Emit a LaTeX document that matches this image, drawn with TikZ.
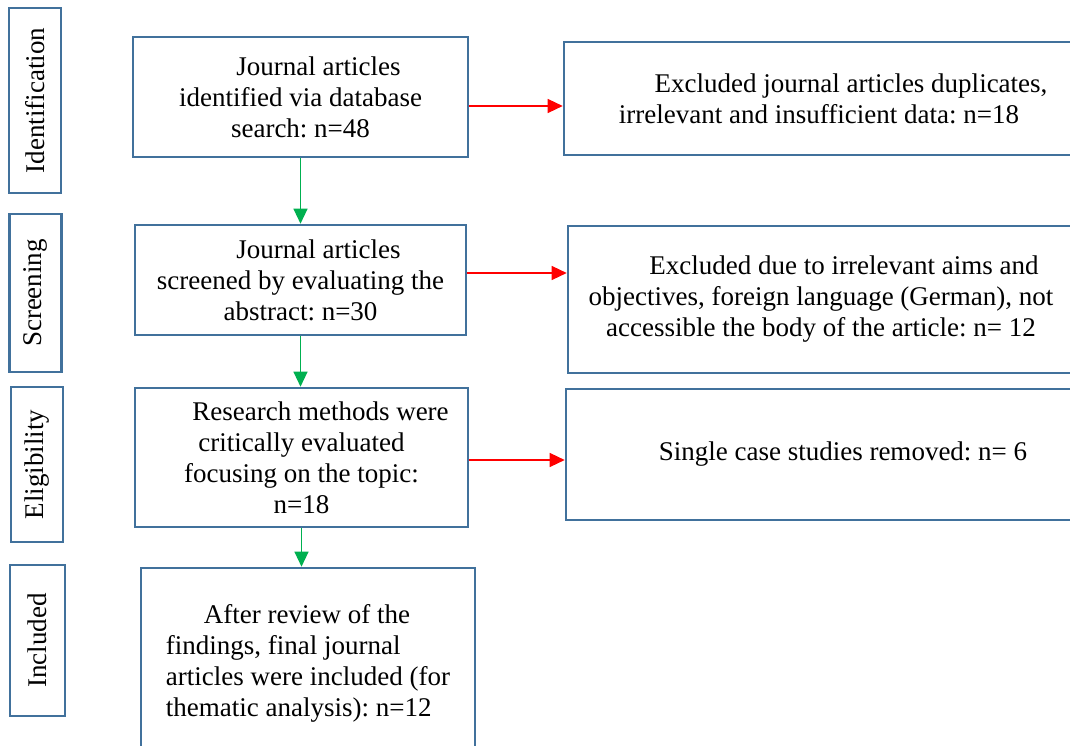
\documentclass[tikz,border=0pt]{standalone}
\usepackage{fontspec}
\setmainfont{Liberation Serif}
\usepackage{xcolor}
\usetikzlibrary{arrows.meta}
\definecolor{boxblue}{HTML}{41719C}
\definecolor{okgreen}{HTML}{00B050}
\frenchspacing

\begin{document}
\begin{tikzpicture}[
    x=1pt, y=-1pt,
    every node/.style={font=\fontsize{27}{31}\selectfont},
    stage/.style={rectangle, draw=boxblue, line width=2.6pt, rotate=90, minimum width=#1, minimum height=52pt, inner sep=0pt},
    box/.style={rectangle, draw=boxblue, line width=2.6pt, align=center, inner sep=0pt},
    arrow/.style={-{Triangle[length=15pt, width=14pt]}, line width=1.3pt, draw=#1, fill=#1}
]
\useasboundingbox (0,0) rectangle (1070,746);
\clip (0,0) rectangle (1070,746);

% Stages
\node[stage=185pt] (ident) at (35,100.5) {Identification};
\node[stage=158pt] (screen) at (35.5,293) {Screening};
\node[stage=155pt] (elig) at (37,464.5) {Eligibility};
\node[stage=151pt, minimum height=55pt] (incl) at (37.5,640.5) {Included};

% Main components
\node[box, minimum width=335pt, minimum height=120pt] (search) at (300.5,97) {\hspace*{36pt}Journal articles\\identified via database\\search: n=48};
\node[box, minimum width=331pt, minimum height=110pt] (abstract) at (300.5,280) {\hspace*{36pt}Journal articles\\screened by evaluating the\\abstract: n=30};
\node[box, minimum width=333pt, minimum height=139pt] (methods) at (301.5,457.5) {\hspace*{38pt}Research methods were\\critically evaluated\\focusing on the topic:\\n=18};
\node[box, minimum width=334pt, minimum height=190pt, align=left] (final) at (308,663) {\hspace*{38pt}After review of the\\findings, final journal\\articles were included (for\\thematic analysis): n=12};

% Exclusions
\node[box, minimum width=510pt, minimum height=113pt] (dupes) at (819,98.5) {\hspace*{64pt}Excluded journal articles duplicates,\\irrelevant and insufficient data: n=18};
\node[box, minimum width=506pt, minimum height=147pt] (aims) at (821,299.5) {\hspace*{46pt}Excluded due to irrelevant aims and\\objectives, foreign language (German), not\\accessible the body of the article: n= 12};
\node[box, minimum width=510pt, minimum height=131pt] (single) at (821,454.5) {\hspace*{44pt}Single case studies removed: n= 6};

% Arrows
\draw[arrow=okgreen] (search) -- (abstract);
\draw[arrow=okgreen] (abstract.south) -- (abstract.south |- methods.north);
\draw[arrow=okgreen] (methods.south) -- (methods.south |- final.north);
\draw[arrow=red] ([yshift=-9pt]search.east) -- ([yshift=-9pt]search.east -| dupes.west);
\draw[arrow=red] ([yshift=7pt]abstract.east) -- ([yshift=7pt]abstract.east -| aims.west);
\draw[arrow=red] ([yshift=-2.5pt]methods.east) -- ([yshift=-2.5pt]methods.east -| single.west);
\end{tikzpicture}
\end{document}
